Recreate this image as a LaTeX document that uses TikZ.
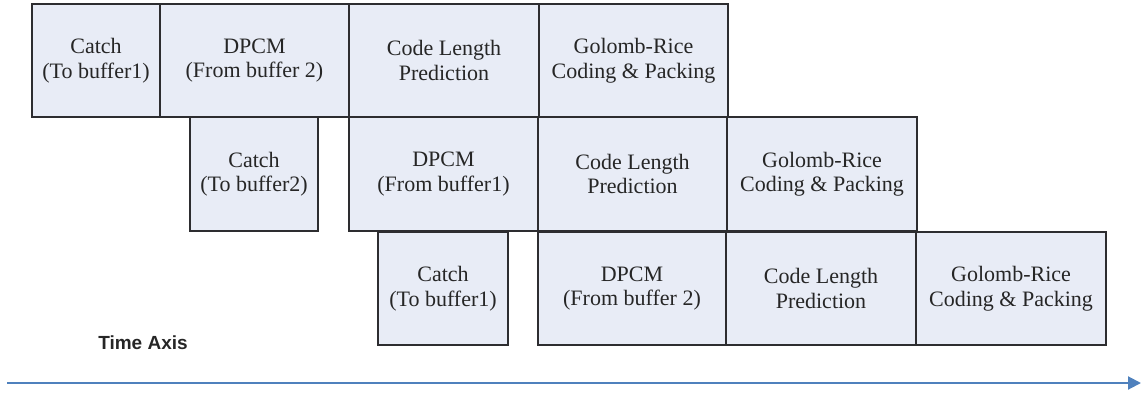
\documentclass[tikz,border=0pt]{standalone}
\usepackage{fontspec}
\setmainfont{Liberation Serif}
\newfontfamily\axisfont{Liberation Sans}
\usetikzlibrary{arrows.meta}
\definecolor{stagefill}{RGB}{232,236,246}
\definecolor{stageline}{RGB}{45,45,48}
\definecolor{axisblue}{RGB}{79,129,189}
\tikzset{
  stagebox/.style={draw=stageline, line width=1.8pt, fill=stagefill,
    inner sep=0pt, align=center, text=black!85, font=\fontsize{22}{24.5}\selectfont},
  narrow/.style={stagebox, minimum width=128pt, minimum height=113pt},
  wide/.style={stagebox, minimum width=189pt, minimum height=113pt},
  axislabel/.style={font=\axisfont\bfseries\fontsize{19}{22}\selectfont, text=black!85},
  timeline/.style={draw=axisblue, line width=2pt, -{Triangle[length=13pt,width=13pt]}}
}
\begin{document}
\begin{tikzpicture}[x=1pt, y=-1pt]
\useasboundingbox (0,0) rectangle (1142,396);

% first image: catch into buffer 1
\node[narrow] (c1) at (96,60.5) {Catch\\(To buffer1)};
\node[wide] (d1) at (254.5,60.5) {DPCM\\(From buffer 2)};
\node[wide, minimum width=190pt] (l1) at (444,60.5) {Code Length\\Prediction};
\node[wide] (g1) at (633.5,60.5) {Golomb-Rice\\Coding \& Packing};

% second image: catch into buffer 2
\node[narrow, minimum height=114pt] (c2) at (254,174) {Catch\\(To buffer2)};
\node[wide, minimum height=114pt] (d2) at (443.5,174) {DPCM\\(From buffer1)};
\node[wide, minimum height=114pt] (l2) at (632.5,174) {Code Length\\Prediction};
\node[wide, minimum width=190pt, minimum height=114pt] (g2) at (822,174) {Golomb-Rice\\Coding \& Packing};

% third image: catch into buffer 1 again
\node[narrow, minimum width=130pt] (c3) at (443,288.5) {Catch\\(To buffer1)};
\node[wide, minimum width=188pt] (d3) at (632,288.5) {DPCM\\(From buffer 2)};
\node[wide, minimum width=190pt] (l3) at (821,288.5) {Code Length\\Prediction};
\node[wide, minimum width=190pt] (g3) at (1011,288.5) {Golomb-Rice\\Coding \& Packing};

% time axis
\node[axislabel] (tlabel) at (143,343) {Time Axis};
\coordinate (tstart) at (7,383);
\coordinate (tend) at (1141,383);
\draw[timeline] (tstart) -- (tend);
\end{tikzpicture}
\end{document}
